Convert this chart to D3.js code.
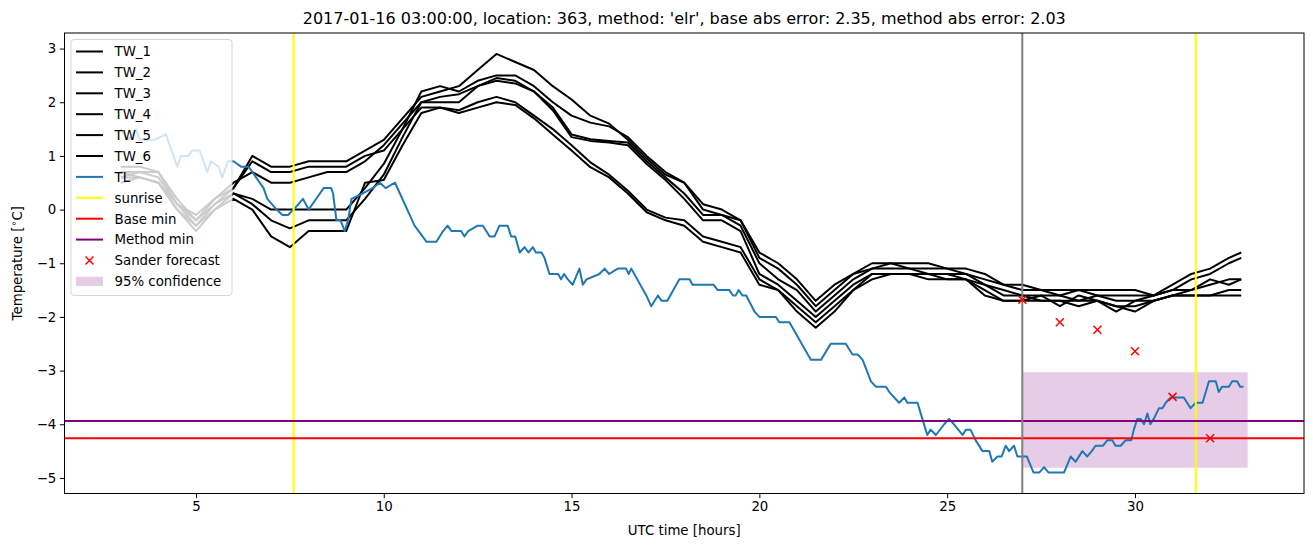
<!DOCTYPE html>
<html><head><meta charset="utf-8">
<script src="https://cdn.jsdelivr.net/npm/d3@7"></script>
<style>body{margin:0;background:#fff} text{font-family:"DejaVu Sans",sans-serif;fill:#000}</style>
</head><body><svg id="c" width="1313" height="547"></svg>
<script>
// ---------------- data ----------------
const titleText = "2017-01-16 03:00:00, location: 363, method: 'elr', base abs error: 2.35, method abs error: 2.03";
const times = [3,3.5,4,4.5,5,5.5,6,6.5,7,7.5,8,8.5,9,9.5,10,10.5,11,11.5,12,12.5,13,13.5,14,14.5,15,15.5,16,16.5,17,17.5,18,18.5,19,19.5,20,20.5,21,21.5,22,22.5,23,23.5,24,24.5,25,25.5,26,26.5,27,27.5,28,28.5,29,29.5,30,30.5,31,31.5,32,32.5,32.83];
const tw1 = [0.8,0.8,0.7,0.2,-0.2,0.1,0.4, 1.0,0.8,0.8,0.9,0.9,0.9, 1.1,1.3,1.7,2.1,2.2,2.3,2.6,2.9,2.75,2.6,2.3,2.05,1.75,1.6,1.3,0.95,0.65,0.5,0.1,0.0,-0.2,-0.8,-1.0,-1.3,-1.7,-1.4,-1.2,-1.0,-1.0,-1.0,-1.0,-1.1,-1.1,-1.2,-1.4,-1.4,-1.5,-1.5,-1.5,-1.5,-1.5,-1.5,-1.6,-1.4,-1.2,-1.1,-0.9,-0.8];
const tw2 = [0.7,0.7,0.7,0.1,-0.3,0.0,0.3, 0.2,0.0,0.0,0.0,0.0,0.0, 0.4,0.85,1.5,2.2,2.3,2.2,2.4,2.5,2.5,2.3,2.0,1.75,1.62,1.55,1.35,1.0,0.7,0.5,0.0,-0.1,-0.2,-0.9,-1.1,-1.4,-1.8,-1.5,-1.2,-1.1,-1.0,-1.1,-1.1,-1.1,-1.2,-1.3,-1.4,-1.5,-1.5,-1.6,-1.5,-1.6,-1.6,-1.6,-1.6,-1.5,-1.3,-1.2,-1.0,-0.9];
const tw3 = [0.6,0.7,0.6,0.1,-0.2,0.2,0.5, 0.7,0.5,0.5,0.6,0.7,0.7, 0.9,1.2,1.6,2.0,2.1,2.15,2.3,2.45,2.4,2.2,1.9,1.4,1.31,1.28,1.25,0.9,0.6,0.3,-0.1,-0.1,-0.3,-1.0,-1.3,-1.5,-1.9,-1.6,-1.3,-1.1,-1.1,-1.1,-1.2,-1.2,-1.2,-1.4,-1.5,-1.6,-1.6,-1.6,-1.7,-1.6,-1.7,-1.7,-1.6,-1.5,-1.5,-1.3,-1.4,-1.3];
const tw4 = [0.5,0.6,0.5,0.0,-0.3,0.1,0.3, 0.1,-0.2,-0.35,-0.2,-0.2,-0.2, 0.2,0.65,1.35,2.0,2.0,2.0,2.3,2.4,2.35,2.2,1.85,1.35,1.28,1.25,1.2,0.85,0.55,0.2,-0.2,-0.2,-0.4,-1.2,-1.4,-1.7,-2.0,-1.7,-1.4,-1.2,-1.2,-1.2,-1.2,-1.3,-1.3,-1.4,-1.6,-1.6,-1.7,-1.7,-1.7,-1.7,-1.8,-1.8,-1.7,-1.6,-1.6,-1.6,-1.5,-1.5];
const tw5 = [0.7,0.6,0.5,0.1,-0.1,0.2,0.4, 0.9,0.7,0.7,0.8,0.8,0.8, 1.0,1.1,1.5,1.9,1.9,1.85,2.0,2.1,2.0,1.75,1.5,1.2,0.88,0.65,0.35,0.0,-0.15,-0.2,-0.5,-0.6,-0.7,-1.3,-1.5,-1.8,-2.1,-1.8,-1.5,-1.2,-1.2,-1.2,-1.3,-1.3,-1.3,-1.5,-1.7,-1.7,-1.7,-1.7,-1.8,-1.7,-1.8,-1.9,-1.7,-1.6,-1.6,-1.6,-1.6,-1.6];
const tw6 = [0.6,0.6,0.5,0.0,-0.4,0.0,0.2, 0.0,-0.5,-0.7,-0.4,-0.4,-0.4, 0.5,0.55,1.2,1.8,1.9,1.8,1.9,2.0,1.95,1.7,1.4,1.1,0.79,0.6,0.3,-0.05,-0.2,-0.3,-0.6,-0.7,-0.8,-1.4,-1.5,-1.9,-2.2,-1.9,-1.5,-1.3,-1.2,-1.2,-1.2,-1.2,-1.3,-1.6,-1.7,-1.7,-1.6,-1.8,-1.6,-1.7,-1.9,-1.7,-1.7,-1.6,-1.5,-1.4,-1.3,-1.3];
const twNames = ["TW_1","TW_2","TW_3","TW_4","TW_5","TW_6"];

const tlTimes = [3.0,3.2,3.4,3.5,3.9,4.2,4.5,4.6,4.8,4.9,5.1,5.3,5.4,5.6,5.7,5.85,6.0,6.2,6.4,6.5,6.6,6.8,6.9,7.15,7.3,7.45,7.6,7.85,8.0,8.3,8.4,8.6,8.65,8.74,8.85,8.96,9.05,9.14,9.44,9.7,9.9,10.05,10.3,10.43,10.69,10.82,11.14,11.4,11.58,11.7,11.8,12.06,12.15,12.25,12.5,12.64,12.82,12.95,13.08,13.3,13.39,13.5,13.62,13.75,13.85,13.97,14.05,14.2,14.28,14.41,14.64,14.72,14.8,14.9,15.03,15.21,15.3,15.4,15.74,15.88,16.0,16.23,16.45,16.52,16.59,16.99,17.12,17.3,17.4,17.55,17.87,18.14,18.22,18.78,18.89,19.2,19.3,19.37,19.45,19.55,19.65,19.87,20.0,20.44,20.53,20.8,21.37,21.64,21.9,22.3,22.48,22.62,22.75,22.97,23.1,23.37,23.46,23.72,23.86,23.94,24.21,24.34,24.47,24.56,24.7,24.92,25.05,25.18,25.41,25.5,25.62,25.76,25.94,26.12,26.2,26.34,26.45,26.56,26.65,26.78,26.87,27.12,27.3,27.45,27.58,27.7,28.11,28.29,28.42,28.6,28.73,28.85,28.95,29.15,29.26,29.4,29.48,29.62,29.75,29.9,29.97,30.06,30.15,30.24,30.33,30.41,30.5,30.64,30.73,30.82,30.95,31.3,31.48,31.62,31.8,31.97,32.15,32.23,32.32,32.5,32.59,32.72,32.8,32.89];
const tlValues = [1.5,1.3,1.5,1.3,1.3,1.4,0.8,1.0,1.0,1.1,1.1,0.7,0.9,0.8,0.6,0.9,0.9,0.8,0.8,0.7,0.6,0.4,0.2,0.0,-0.1,-0.1,0.0,0.2,0.0,0.3,0.4,0.4,0.3,-0.2,-0.2,-0.4,-0.2,0.2,0.3,0.4,0.5,0.4,0.5,0.3,-0.1,-0.3,-0.6,-0.6,-0.4,-0.3,-0.4,-0.4,-0.5,-0.4,-0.3,-0.3,-0.5,-0.5,-0.3,-0.3,-0.5,-0.5,-0.8,-0.7,-0.8,-0.7,-0.8,-0.8,-0.9,-1.2,-1.2,-1.3,-1.2,-1.3,-1.4,-1.1,-1.4,-1.3,-1.2,-1.1,-1.2,-1.1,-1.1,-1.2,-1.1,-1.6,-1.8,-1.6,-1.7,-1.7,-1.3,-1.3,-1.4,-1.4,-1.5,-1.5,-1.6,-1.6,-1.5,-1.6,-1.6,-1.9,-2.0,-2.0,-2.1,-2.1,-2.8,-2.8,-2.5,-2.5,-2.7,-2.7,-2.8,-3.2,-3.3,-3.3,-3.4,-3.6,-3.5,-3.6,-3.6,-3.9,-4.2,-4.1,-4.2,-4.0,-3.9,-4.0,-4.2,-4.1,-4.1,-4.3,-4.5,-4.5,-4.7,-4.6,-4.6,-4.4,-4.5,-4.4,-4.6,-4.6,-4.9,-4.9,-4.8,-4.9,-4.9,-4.6,-4.7,-4.5,-4.6,-4.5,-4.4,-4.4,-4.3,-4.3,-4.4,-4.4,-4.3,-4.3,-4.1,-3.9,-3.9,-4.0,-3.8,-4.0,-3.9,-3.7,-3.7,-3.6,-3.5,-3.5,-3.7,-3.6,-3.6,-3.2,-3.2,-3.4,-3.3,-3.3,-3.2,-3.2,-3.3,-3.3];

const sunriseTimes = [7.6, 31.62];
const forecastStart = 27;
const baseMin = -4.26;
const methodMin = -3.94;
const sanderTimes = [27, 28, 29, 30, 31, 32];
const sanderValues = [-1.68, -2.1, -2.24, -2.64, -3.49, -4.26];
const confTimes = [27, 33];
const confLow = -4.81, confHigh = -3.03;
const xTicks = [5, 10, 15, 20, 25, 30];
const yTicks = [-5, -4, -3, -2, -1, 0, 1, 2, 3];
const legendLabels = ["TW_1","TW_2","TW_3","TW_4","TW_5","TW_6","TL","sunrise","Base min","Method min","Sander forecast","95% confidence"];

// ---------------- chart ----------------
const svg = d3.select("#c");
const L = 64.5, R = 1304, T = 33, B = 493.5;
const twSeries = [tw1, tw2, tw3, tw4, tw5, tw6];
const allY = twSeries.flat().concat(tlValues, sanderValues, [confLow, confHigh, baseMin, methodMin]);
const allX = times.concat(tlTimes, confTimes, sanderTimes);
const xe = d3.extent(allX), ye = d3.extent(allY);
const xm = (xe[1]-xe[0])*0.05, ym = (ye[1]-ye[0])*0.05;
const x = d3.scaleLinear().domain([xe[0]-xm, xe[1]+xm]).range([L, R]);
const y = d3.scaleLinear().domain([ye[0]-ym, ye[1]+ym]).range([B, T]);

svg.append("defs").append("clipPath").attr("id","clip")
  .append("rect").attr("x",L).attr("y",T).attr("width",R-L).attr("height",B-T);
const g = svg.append("g").attr("clip-path","url(#clip)");

// confidence area
g.append("rect").attr("x", x(confTimes[0])).attr("width", x(confTimes[1])-x(confTimes[0]))
  .attr("y", y(confHigh)).attr("height", y(confLow)-y(confHigh))
  .attr("fill","purple").attr("fill-opacity",0.2);

const line = d3.line().x(d=>x(d[0])).y(d=>y(d[1]));
twSeries.forEach(s=>{
  g.append("path").attr("d", line(times.map((t,i)=>[t,s[i]])))
   .attr("fill","none").attr("stroke","#000").attr("stroke-width",2).attr("stroke-linejoin","round");
});
g.append("path").attr("d", line(tlTimes.map((t,i)=>[t,tlValues[i]])))
  .attr("fill","none").attr("stroke","#1f77b4").attr("stroke-width",2).attr("stroke-linejoin","round");

sunriseTimes.forEach(t=>{
  g.append("line").attr("x1",x(t)).attr("x2",x(t)).attr("y1",T).attr("y2",B)
   .attr("stroke","#ffff00").attr("stroke-width",2);
});
g.append("line").attr("x1",L).attr("x2",R).attr("y1",y(baseMin)).attr("y2",y(baseMin)).attr("stroke","red").attr("stroke-width",2);
g.append("line").attr("x1",L).attr("x2",R).attr("y1",y(methodMin)).attr("y2",y(methodMin)).attr("stroke","purple").attr("stroke-width",2);
g.append("line").attr("x1",x(forecastStart)).attr("x2",x(forecastStart)).attr("y1",T).attr("y2",B).attr("stroke","gray").attr("stroke-width",2);

function xMark(sel, cx, cy){
  const s = 4;
  sel.append("path").attr("d",`M${cx-s},${cy-s}L${cx+s},${cy+s}M${cx-s},${cy+s}L${cx+s},${cy-s}`)
    .attr("stroke","red").attr("stroke-width",1.5).attr("fill","none");
}
sanderTimes.forEach((t,i)=>xMark(g, x(t), y(sanderValues[i])));

// axes
const xAxis = svg.append("g").attr("transform",`translate(0,${B})`)
  .call(d3.axisBottom(x).tickValues(xTicks).tickSize(4.67).tickPadding(3.5).tickFormat(d3.format("d")));
const yAxis = svg.append("g").attr("transform",`translate(${L},0)`)
  .call(d3.axisLeft(y).tickValues(yTicks).tickSize(4.67).tickPadding(3.5).tickFormat(d3.format("d")));
[xAxis,yAxis].forEach(a=>{
  a.select(".domain").remove();
  a.selectAll(".tick line").attr("stroke","#000").attr("stroke-width",1);
  a.selectAll(".tick text").attr("font-family","DejaVu Sans").attr("font-size",13.33).attr("fill","#000");
});
svg.append("rect").attr("x",L).attr("y",T).attr("width",R-L).attr("height",B-T)
  .attr("fill","none").attr("stroke","#000").attr("stroke-width",1);

// labels
svg.append("text").attr("x",(L+R)/2).attr("y",24).attr("text-anchor","middle")
  .attr("font-size",16).text(titleText);
svg.append("text").attr("x",(L+R)/2).attr("y",535).attr("text-anchor","middle")
  .attr("font-size",13.33).text("UTC time [hours]");
const yl = svg.append("text").attr("transform",`translate(22,${(T+B)/2}) rotate(-90)`)
  .attr("text-anchor","middle").attr("font-size",13.33);
yl.append("tspan").text("Temperature [");
yl.append("tspan").attr("font-size",9.5).attr("dy",-5).text("\u2218");
yl.append("tspan").attr("dy",5).text("C]");

// legend
const lg = svg.append("g");
lg.append("rect").attr("x",71).attr("y",39.5).attr("width",161).attr("height",256).attr("rx",3)
  .attr("fill","#fff").attr("fill-opacity",0.8).attr("stroke","#ccc").attr("stroke-opacity",0.8);
const styles = [
  {t:"line",c:"#000"},{t:"line",c:"#000"},{t:"line",c:"#000"},{t:"line",c:"#000"},{t:"line",c:"#000"},{t:"line",c:"#000"},
  {t:"line",c:"#1f77b4"},{t:"line",c:"#ffff00"},{t:"line",c:"red"},{t:"line",c:"purple"},{t:"x"},{t:"patch"}];
legendLabels.forEach((lab,i)=>{
  const cy = 51.5 + i*20.9;
  const st = styles[i];
  if(st.t==="line") lg.append("line").attr("x1",76).attr("x2",103).attr("y1",cy).attr("y2",cy).attr("stroke",st.c).attr("stroke-width",2);
  else if(st.t==="x") xMark(lg, 89.5, cy);
  else lg.append("rect").attr("x",76).attr("y",cy-4.7).attr("width",27).attr("height",9.4).attr("fill","purple").attr("fill-opacity",0.2);
  lg.append("text").attr("x",114.5).attr("y",cy+4.8).attr("font-size",13.33).text(lab);
});
</script></body></html>
